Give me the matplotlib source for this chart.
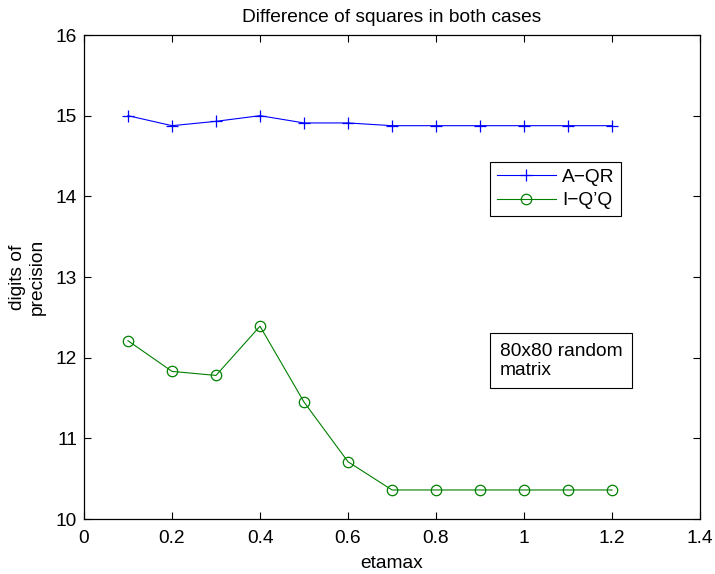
import matplotlib
matplotlib.use("Agg")
import matplotlib.pyplot as plt

plt.rcParams['font.family'] = ['Liberation Sans', 'DejaVu Sans']

etamax = [0.1, 0.2, 0.3, 0.4, 0.5, 0.6, 0.7, 0.8, 0.9, 1.0, 1.1, 1.2]
a_qr = [15.0, 14.876, 14.93, 15.0, 14.91, 14.91, 14.876, 14.876, 14.876, 14.876, 14.876, 14.876]
i_qq = [12.21, 11.83, 11.78, 12.39, 11.45, 10.71, 10.36, 10.36, 10.36, 10.36, 10.36, 10.36]
xticks = [0, 0.2, 0.4, 0.6, 0.8, 1, 1.2, 1.4]
xticklabels = ['0', '0.2', '0.4', '0.6', '0.8', '1', '1.2', '1.4']
yticks = [10, 11, 12, 13, 14, 15, 16]

FS = 13.8

fig = plt.figure(figsize=(7.15, 5.74), dpi=100)
ax = fig.add_axes([0.1175, 0.0958, 0.8615, 0.8432])

ax.plot(etamax, a_qr, color='blue', marker='+', markersize=9, linewidth=0.8,
        markeredgewidth=0.9, label='A\u2212QR')
ax.plot(etamax, i_qq, color='green', marker='o', markersize=7.5, linewidth=0.8,
        markerfacecolor='none', markeredgewidth=0.9, label='I\u2212Q\u2019Q')

ax.set_xlim(0, 1.4)
ax.set_ylim(10, 16)
ax.set_xticks(xticks)
ax.set_xticklabels(xticklabels)
ax.set_yticks(yticks)
ax.tick_params(direction='in', top=True, right=True, labelsize=FS, length=5, width=0.8)
ax.tick_params(axis='x', pad=8)
ax.tick_params(axis='y', pad=5)
for s in ax.spines.values():
    s.set_linewidth(0.9)

ax.set_title('Difference of squares in both cases', fontsize=FS, pad=9.5)
ax.set_xlabel('etamax', fontsize=FS, labelpad=6)
ax.set_ylabel('digits of\nprecision', fontsize=FS, labelpad=7, linespacing=1.25)

leg = ax.legend(loc='upper left', bbox_to_anchor=(0.659, 0.7376), fontsize=FS,
                frameon=True, fancybox=False, edgecolor='black', framealpha=1,
                handlelength=3.1, borderpad=0.35, labelspacing=0.3, handletextpad=0.3,
                borderaxespad=0)
leg.get_frame().set_linewidth(0.8)

ax.text(0.675, 0.29, '80x80 random\nmatrix', transform=ax.transAxes, fontsize=FS,
        va='bottom', ha='left', linespacing=1.15,
        bbox=dict(boxstyle='square,pad=0.5', facecolor='white', edgecolor='black', linewidth=0.8))

fig.savefig('out.png', dpi=100)
